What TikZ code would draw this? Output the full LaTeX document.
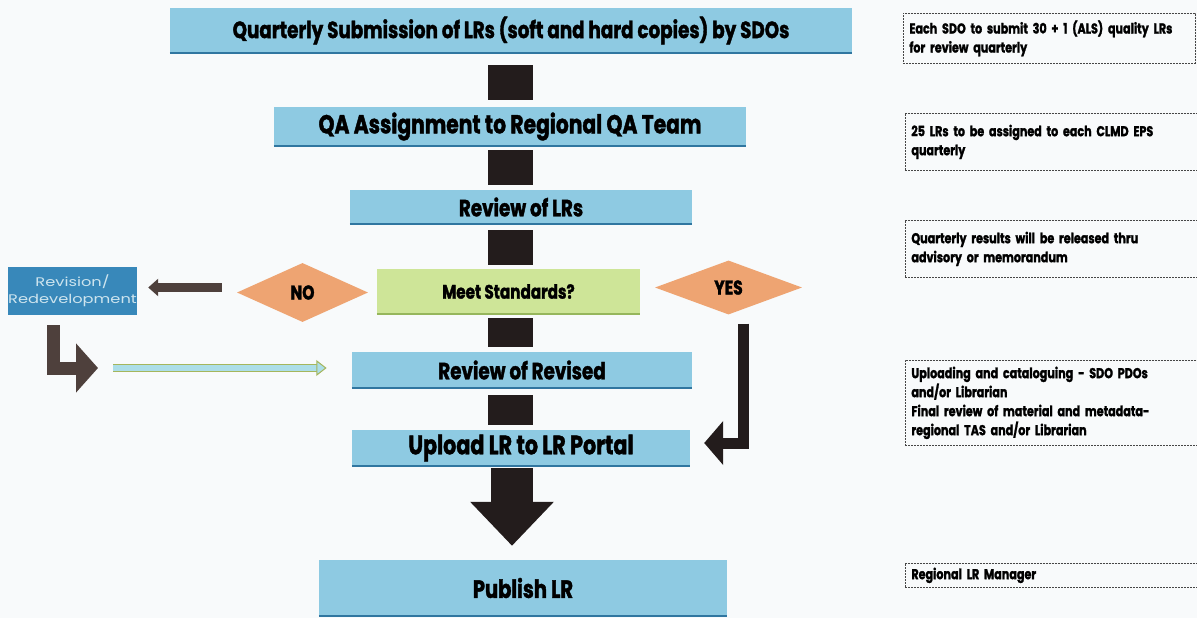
\documentclass[tikz,border=0pt]{standalone}
\usepackage{fontspec}
\setmainfont{Poppins}[FakeStretch=0.78, BoldFeatures={FakeBold=1.5}]
\newfontfamily\widefont{Poppins}[FakeStretch=1.3]
\usetikzlibrary{shapes.geometric,arrows.meta,calc}
\definecolor{bgcol}{RGB}{248,250,251}
\definecolor{boxblue}{RGB}{142,202,226}
\definecolor{boxedge}{RGB}{48,118,160}
\definecolor{meetgreen}{RGB}{206,229,152}
\definecolor{meetedge}{RGB}{150,182,92}
\definecolor{diamorange}{RGB}{238,164,114}
\definecolor{sqblack}{RGB}{35,28,28}
\definecolor{revblue}{RGB}{56,136,186}
\definecolor{revtext}{RGB}{205,228,238}
\definecolor{arrowgray}{RGB}{78,64,60}
\definecolor{thinfill}{RGB}{172,222,232}
\definecolor{thinedge}{RGB}{165,182,92}
\definecolor{notecol}{RGB}{70,70,70}
\newcommand{\fsz}[1]{\fontsize{#1}{#1}\selectfont}
\begin{document}
\begin{tikzpicture}[x=1pt,y=-1pt,
  flow/.style={rectangle, fill=boxblue, inner sep=0pt, font=\bfseries, text=black},
  sqconn/.style={draw=sqblack, line width=45pt, shorten <=6pt, shorten >=5pt},
  diam/.style={diamond, fill=diamorange, inner sep=0pt, font=\bfseries\fsz{20}},
  darkarrow/.style={draw=arrowgray, line width=9pt, -{Triangle[length=10pt,width=17pt]}},
  bentarrow/.style={draw=arrowgray, line width=13pt, -{Triangle[length=22pt,width=48pt]}},
  yesarrow/.style={draw=sqblack, line width=11pt, -{Triangle[length=19pt,width=43pt]}},
  lightarrow/.style={draw=thinedge, line width=1pt, double=thinfill, double distance=6pt},
  note/.style={draw=notecol, dash pattern=on 2pt off 1pt, line width=0.8pt, anchor=north west,
    align=left, text width=280pt, inner xsep=6pt, inner ysep=0pt, font=\bfseries\fontsize{14.3}{19}\selectfont}
]
\useasboundingbox (0,0) rectangle (1197,618);
\fill[bgcol] (0,0) rectangle (1197,618);
\coordinate (axis) at (510,0);

% main flow boxes
\node[flow, minimum width=682pt, minimum height=45pt, font=\bfseries\fsz{23.5}] (top) at (511,30.5) {Quarterly Submission of LRs (soft and hard copies) by SDOs};
\node[flow, minimum width=472pt, minimum height=39pt, font=\bfseries\fsz{26}] (qa) at (510,126.5) {QA Assignment to Regional QA Team};
\node[flow, minimum width=342pt, minimum height=34pt, font=\bfseries\fsz{23.5}] (rev) at (521,207) {Review of LRs};
\node[flow, fill=meetgreen, minimum width=263pt, minimum height=45pt, font=\bfseries\fsz{19.5}] (meet) at (508.5,291.5) {Meet Standards?};
\node[flow, minimum width=340pt, minimum height=36pt, font=\bfseries\fsz{23.5}] (ror) at (522,370) {Review of Revised};
\node[flow, minimum width=338pt, minimum height=36pt, font=\bfseries\fsz{26.5}] (up) at (521,448) {Upload LR to LR Portal};
\node[flow, minimum width=408pt, minimum height=56pt, font=\bfseries\fsz{25}] (pub) at (523,588) {Publish LR};
\foreach \n in {top,qa,rev,ror,up,pub}
  \draw[boxedge, line width=2.5pt] (\n.south west) -- (\n.south east);
\draw[meetedge, line width=1.5pt] (meet.south west) -- (meet.south east);

% black square connectors
\draw[sqconn, shorten <=12pt, shorten >=7pt] (top.south -| axis) -- (qa.north -| axis);
\draw[sqconn, shorten <=4pt] (qa.south -| axis) -- (rev.north -| axis);
\draw[sqconn, shorten >=4pt] (rev.south -| axis) -- (meet.north -| axis);
\draw[sqconn, shorten <=4pt] (meet.south -| axis) -- (ror.north -| axis);
\draw[sqconn, shorten <=7pt] (ror.south -| axis) -- (up.north -| axis);

% big down arrow
\draw[draw=sqblack, line width=42pt, -{Triangle[length=44pt,width=81pt]}, shorten <=2pt, shorten >=14pt]
  (up.south -| 512,0) -- (pub.north -| 512,0);

% diamonds
\node[diam, minimum width=131pt, minimum height=59pt] (no) at (302.5,292.5) {NO};
\node[diam, minimum width=147pt, minimum height=54pt] (yes) at (728.5,287.5) {YES};

% revision box
\node[rectangle, fill=revblue, inner sep=0pt, minimum width=129pt, minimum height=48pt, align=center,
  text=revtext, font=\widefont\fontsize{12.5}{17}\selectfont] (rbox) at (72.5,291) {Revision/\\Redevelopment};

% arrows
\draw[darkarrow, shorten <=15pt, shorten >=11pt] ([yshift=5pt]no.west) -- ([yshift=5pt]no.west -| rbox.east);
\coordinate (bt) at (98,368);
\draw[bentarrow, shorten <=10pt] ([xshift=-19pt]rbox.south) |- (bt);
\draw[lightarrow, shorten <=15pt, shorten >=33pt] (bt) -- (bt -| ror.west);
\fill[thinfill, draw=thinedge, line width=1pt] ($(bt -| ror.west)+(-35,-7)$) -- ($(bt -| ror.west)+(-26,0)$) -- ($(bt -| ror.west)+(-35,7)$) -- cycle;
\draw[yesarrow, shorten <=9pt, shorten >=14pt] ([xshift=15pt]yes.south) |- ([yshift=5pt]up.east);

% notes
\node[note, minimum height=50pt] (n1) at (903,13) {Each SDO to submit 30 + 1 (ALS) quality LRs\\for review quarterly};
\node[note, minimum height=57pt] (n2) at (905,113) {25 LRs to be assigned to each CLMD EPS\\quarterly};
\node[note, minimum height=57pt] (n3) at (905,220) {Quarterly results will be released thru\\advisory or memorandum};
\node[note, minimum height=85pt] (n4) at (905,360) {Uploading and cataloguing - SDO PDOs\\and/or Librarian\\Final review of material and metadata-\\regional TAS and/or Librarian};
\node[note, minimum height=24pt] (n5) at (905,563) {Regional LR Manager};
\end{tikzpicture}
\end{document}
